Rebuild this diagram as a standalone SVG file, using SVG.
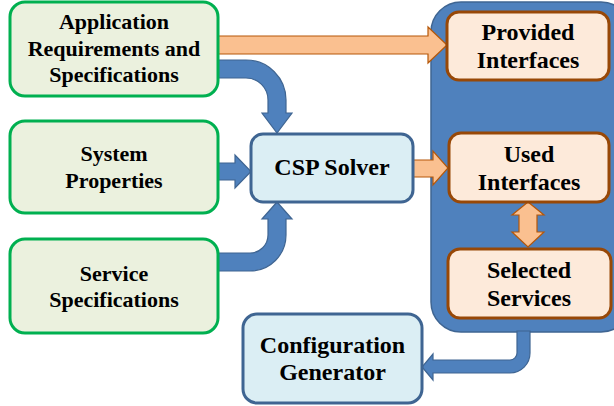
<svg xmlns="http://www.w3.org/2000/svg" width="614" height="406" viewBox="0 0 614 406">
  <defs>
    <style>
      .t { font-family: 'Liberation Serif', serif !important; font-weight: 700; fill: #000; text-anchor: middle; }
      .t22 { font-size: 22px; }
      .t24 { font-size: 24px; }
      .input { fill: #EBF1DE; stroke: #00B050; stroke-width: 3; }
      .proc { fill: #DBEEF4; stroke: #3F6592; stroke-width: 3; }
      .out { fill: #FDEADA; stroke: #984807; stroke-width: 3; }
      .group { fill: #4F81BD; stroke: #3F6592; stroke-width: 1.5; }
      .flow-b { fill: #4F81BD; stroke: #3F6592; stroke-width: 1.2; }
      .flow-o { fill: #FAC090; stroke: #B65708; stroke-width: 1.2; }
    </style>
  </defs>

  <!-- result container -->
  <g id="results">
    <rect class="group" x="431" y="2" width="200" height="330" rx="30"/>
  </g>

  <!-- connectors -->
  <g id="connectors">
    <!-- requirements -> provided interfaces -->
    <path class="flow-o" d="M218,36 H428 V27 L447,45 L428,63 V54 H218 Z"/>
    <!-- requirements -> CSP solver -->
    <path class="flow-b" d="M218,60 H246 A40,40 0 0 1 286,100 V113 H292 L277,133 L262,113 H268 V100 A22,22 0 0 0 246,78 H218 Z"/>
    <!-- system properties -> CSP solver -->
    <path class="flow-b" d="M218,163 H235 V155 L251,171.5 L235,188 V180 H218 Z"/>
    <!-- service specifications -> CSP solver -->
    <path class="flow-b" d="M218,253 H250 A18,18 0 0 0 268,235 V219 H262 L277,202 L292,219 H286 V235 A36,36 0 0 1 250,271 H218 Z"/>
    <!-- CSP solver -> used interfaces -->
    <path class="flow-o" d="M413,160 H433 V151 L448,168 L433,185 V177 H413 Z"/>
    <!-- used interfaces <-> selected services -->
    <path class="flow-o" d="M528,202 L544,215 H537 V232 H544 L528,247 L512,232 H519 V215 H512 Z"/>
    <!-- results -> configuration generator -->
    <path class="flow-b" d="M517,331 V353 A7,7 0 0 1 510,360 H433 V354 L422,367 L433,380 V373 H510 A20,20 0 0 0 530,353 V331 Z"/>
  </g>

  <g id="app-req">
    <rect class="input" x="10" y="2" width="208" height="94" rx="15"/>
    <text class="t t22" font-family="Liberation Serif" x="114" y="29">Application</text>
    <text class="t t22" font-family="Liberation Serif" x="114" y="56">Requirements and</text>
    <text class="t t22" font-family="Liberation Serif" x="114" y="82">Specifications</text>
  </g>

  <g id="sys-props">
    <rect class="input" x="10" y="121" width="208" height="92" rx="15"/>
    <text class="t t22" font-family="Liberation Serif" x="114" y="161">System</text>
    <text class="t t22" font-family="Liberation Serif" x="114" y="188">Properties</text>
  </g>

  <g id="service-spec">
    <rect class="input" x="10" y="239" width="208" height="94" rx="15"/>
    <text class="t t22" font-family="Liberation Serif" x="114" y="281">Service</text>
    <text class="t t22" font-family="Liberation Serif" x="114" y="307">Specifications</text>
  </g>

  <g id="csp-solver">
    <rect class="proc" x="251" y="134" width="162" height="68" rx="12"/>
    <text class="t t24" font-family="Liberation Serif" x="332" y="175">CSP Solver</text>
  </g>

  <g id="provided-if">
    <rect class="out" x="447" y="12" width="162" height="68" rx="12"/>
    <text class="t t24" font-family="Liberation Serif" x="528" y="40">Provided</text>
    <text class="t t24" font-family="Liberation Serif" x="528" y="68">Interfaces</text>
  </g>

  <g id="used-if">
    <rect class="out" x="449" y="133" width="160" height="69" rx="12"/>
    <text class="t t24" font-family="Liberation Serif" x="529" y="162">Used</text>
    <text class="t t24" font-family="Liberation Serif" x="529" y="190">Interfaces</text>
  </g>

  <g id="selected-svc">
    <rect class="out" x="448" y="249" width="163" height="69" rx="12"/>
    <text class="t t24" font-family="Liberation Serif" x="529" y="278">Selected</text>
    <text class="t t24" font-family="Liberation Serif" x="529" y="306">Services</text>
  </g>

  <g id="config-gen">
    <rect class="proc" x="243" y="314" width="179" height="89" rx="14"/>
    <text class="t t24" font-family="Liberation Serif" x="332.5" y="353">Configuration</text>
    <text class="t t24" font-family="Liberation Serif" x="332.5" y="380">Generator</text>
  </g>
</svg>
